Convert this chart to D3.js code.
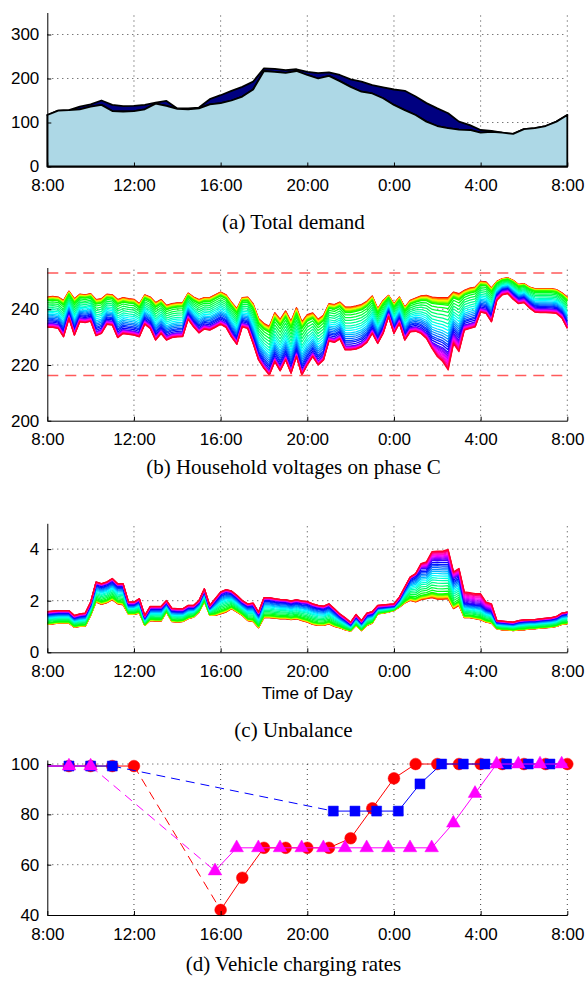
<!DOCTYPE html>
<html>
<head>
<meta charset="utf-8">
<script src="https://cdn.jsdelivr.net/npm/d3@7"></script>
<style>
  html, body { margin: 0; padding: 0; background: #fff; }
  svg { display: block; }
  .axis text { font-family: "Liberation Sans", Arial, Helvetica, sans-serif; font-size: 17px; fill: #000; }
  .axis path, .axis line { stroke: #000; stroke-width: 1; }
  .caption { font-family: "Liberation Serif", "Times New Roman", serif; font-size: 21px; fill: #000; }
  .xlabel { font-family: "Liberation Sans", Arial, Helvetica, sans-serif; font-size: 17px; fill: #000; }
</style>
</head>
<body>
<svg id="fig" width="587" height="981"></svg>
<script>
// ---------- shared time axis (hours after 8:00) ----------
const timeTicks = [0, 4, 8, 12, 16, 20, 24];
const timeTickLabels = ["8:00", "12:00", "16:00", "20:00", "0:00", "4:00", "8:00"];

// ---------- (a) total demand, half-hourly ----------
const demandHours = d3.range(0, 24.001, 0.5);
const baseDemand = [117,127,128,130,136,140,126,125,126,130,143,138,131,130,132,141,144,150,159,175,
  217,215,213,217,208,200,206,194,181,170,166,155,140,128,117,102,92,87,84,83,
  77,79,77,74,85,87,92,102,117];
const totalDemand = [117,127,128,136,141,150,140,137,138,140,145,149,132,132,134,153,162,172,181,193,
  223,222,219,221,215,212,214,208,198,193,185,180,175,172,159,144,132,121,102,94,
  83,81,77,74,85,87,92,102,117];
const demandTicks = [0, 100, 200, 300];

// ---------- (b) household voltages on phase C, quarter-hourly ----------
const voltHours = d3.range(0, 24.001, 0.25);
// highest voltage (house nearest the transformer)
const voltTop = [244.4,244.6,244.4,243.2,246.5,243.8,245.4,245.2,245.6,243.5,243.8,245.4,245.2,243.5,244.2,243.8,
  243.6,242.0,245.2,244.4,242.4,243.5,241.4,242.0,242.3,242.4,245.8,244.4,243.5,244.2,244.2,245.2,
  246.2,245.2,242.6,240.2,244.2,244.4,242.0,236.7,234.9,233.9,238.8,236.4,239.4,235.7,240.6,235.5,
  238.1,238.7,236.4,237.9,242.0,241.7,242.6,240.8,240.8,241.2,241.7,242.9,244.8,240.2,243.2,245.0,
  242.0,244.4,240.8,243.2,244.0,244.8,245.0,244.4,244.2,244.2,244.2,246.2,245.6,246.8,247.6,248.0,
  250.0,249.8,247.7,250.0,251.0,251.3,250.4,248.9,249.2,248.0,247.4,247.4,247.4,247.4,247.1,245.9,244.4];
// voltage of the blue trace where the far-end cluster begins
const voltKnee = [234.9,234.9,234.5,231.5,238.1,232.1,236.9,236.6,237.1,231.9,232.7,236.0,235.7,231.2,232.7,232.4,
  232.1,231.5,236.0,234.5,230.3,232.7,230.3,231.2,231.5,231.6,237.8,235.1,232.9,234.3,233.9,234.9,
  236.0,234.9,231.5,228.8,235.1,234.5,229.1,223.2,220.2,217.8,222.6,219.3,223.2,218.4,224.4,217.8,
  221.4,224.4,221.4,223.2,230.0,229.5,230.7,226.8,226.8,227.1,227.9,229.5,232.7,229.1,232.7,238.7,
  232.7,236.3,230.4,233.3,233.7,232.9,231.3,228.1,227.1,226.2,224.5,231.3,228.9,234.3,234.9,235.5,
  240.4,239.9,236.9,244.6,246.6,247.0,245.0,243.4,243.8,241.9,240.4,240.2,240.2,240.1,239.9,238.3,234.5];
// lowest voltage (house at the end of the feeder)
const voltBottom = [233.5,233.5,233.1,230.1,236.7,230.7,235.5,235.2,235.7,230.5,231.3,234.6,234.3,229.8,231.3,231.0,
  230.7,230.1,234.6,233.1,228.9,231.3,228.9,229.8,230.1,230.2,236.4,233.7,231.5,232.9,232.5,233.5,
  234.6,233.5,230.1,227.4,233.7,233.1,227.7,221.8,218.8,216.4,221.2,217.9,221.8,217.0,223.0,216.4,
  220.0,223.0,220.0,221.8,228.6,228.1,229.3,225.4,225.4,225.7,226.5,228.1,231.3,227.7,231.3,237.3,
  231.3,234.9,228.9,231.9,232.1,231.3,229.5,226.0,223.0,221.2,218.2,227.7,224.8,232.5,233.1,233.7,
  239.0,238.5,235.5,243.2,245.2,245.6,243.6,242.0,242.4,240.5,239.0,238.8,238.8,238.7,238.5,236.9,233.1];
const voltLimits = [253, 216.2];
const voltTicks = [200, 220, 240];

// ---------- (c) unbalance, quarter-hourly ----------
const unbalTop = [1.58,1.60,1.62,1.62,1.62,1.43,1.49,1.52,1.95,2.73,2.66,2.73,2.86,2.66,2.66,1.95,
  1.95,2.08,1.43,1.78,1.78,1.78,2.01,1.71,1.69,1.69,1.82,1.82,2.01,2.47,1.82,2.08,
  2.34,2.43,2.38,2.21,2.01,1.88,1.91,1.56,2.12,2.12,2.08,2.05,2.04,1.99,2.04,1.99,
  1.97,1.88,1.82,1.79,1.88,1.69,1.49,1.34,1.17,1.47,1.23,1.52,1.58,1.82,1.84,1.86,
  1.88,2.14,2.53,2.92,3.05,3.44,3.51,3.90,3.92,3.92,3.99,3.12,3.25,2.34,2.31,2.27,
  2.27,1.95,1.88,1.23,1.21,1.19,1.17,1.23,1.26,1.27,1.27,1.30,1.32,1.34,1.39,1.52,1.56];
const unbalKnee = [1.50,1.52,1.54,1.54,1.54,1.35,1.41,1.44,1.87,2.65,2.58,2.65,2.78,2.58,2.58,1.87,
  1.87,2.00,1.35,1.70,1.70,1.70,1.93,1.63,1.61,1.61,1.74,1.74,1.93,2.39,1.74,2.00,
  2.26,2.35,2.30,2.13,1.93,1.80,1.83,1.48,2.04,2.04,2.00,1.97,1.96,1.91,1.96,1.91,
  1.89,1.80,1.74,1.71,1.80,1.61,1.41,1.26,1.09,1.39,1.15,1.44,1.50,1.74,1.76,1.78,
  1.80,2.06,2.48,2.86,2.99,3.25,3.25,3.55,3.57,3.55,3.55,2.86,2.99,1.95,1.91,1.88,
  1.86,1.69,1.62,1.18,1.16,1.14,1.12,1.18,1.21,1.22,1.22,1.25,1.27,1.29,1.34,1.47,1.51];
const unbalBottom = [1.08,1.10,1.13,1.13,1.13,0.97,1.00,1.01,1.43,1.95,1.86,1.92,2.04,1.88,1.84,1.47,
  1.47,1.52,1.04,1.23,1.21,1.21,1.56,1.19,1.17,1.19,1.30,1.36,1.56,1.97,1.43,1.43,
  1.49,1.56,1.69,1.56,1.43,1.23,1.19,0.95,1.34,1.34,1.32,1.30,1.30,1.27,1.30,1.23,
  1.17,1.08,1.04,1.04,1.10,1.00,0.95,0.87,0.82,1.04,0.84,1.04,1.13,1.49,1.52,1.56,
  1.62,1.75,1.91,2.01,1.95,2.04,2.08,2.12,2.06,2.06,2.08,1.69,1.82,1.34,1.34,1.30,
  1.26,1.17,1.13,0.91,0.87,0.87,0.84,0.87,0.87,0.91,0.91,0.94,0.95,0.97,1.00,1.08,1.10];
const unbalTicks = [0, 2, 4];

// Where each of the 40 households sits along the feeder:
// 0 = nearest end, 1 = blue trace, 2 = far end.
const housePosition = [0, 0.01, 0.02, 0.03, 0.04, 0.05, 0.06, 0.07, 0.08, 0.09,
  0.10, 0.11, 0.12, 0.14, 0.20, 0.27, 0.34, 0.41, 0.48, 0.54,
  0.60, 0.66, 0.71, 0.76, 0.81, 0.86, 0.90, 0.95, 1.0, 1.1,
  1.2, 1.3, 1.4, 1.5, 1.6, 1.7, 1.8, 1.87, 1.94, 2.0];

// ---------- (d) vehicle charging rates ----------
const redHours = [1, 2, 3, 4, 8, 9, 10, 11, 12, 13, 14, 15, 16, 17, 18, 19, 20, 21, 22, 23, 24];
const redRates = [99.2, 99.2, 99.2, 99.2, 42, 54.8, 66.7, 66.7, 66.7, 66.7, 70.5, 82.4, 94.3,
  100, 100, 100, 100, 100, 100, 100, 100];
const redAway = [4, 8];
const blueHours = [1, 2, 3, 13.2, 14.2, 15.2, 16.2, 17.2, 18.2, 19.2, 20.2, 21.2, 22.2, 23.2];
const blueRates = [99.2, 99.2, 99.2, 81.3, 81.3, 81.3, 81.3, 92.1, 100, 100, 100, 100, 100, 100];
const blueAway = [3, 13.2];
const magentaHours = [1, 2, 7.74, 8.74, 9.74, 10.74, 11.74, 12.74, 13.74, 14.74, 15.74, 16.74, 17.74,
  18.74, 19.74, 20.74, 21.74, 22.74, 23.74];
const magentaRates = [99.2, 99.2, 57.5, 66.7, 66.7, 66.7, 66.7, 66.7, 66.7, 66.7, 66.7, 66.7, 66.7,
  76.5, 88.3, 100, 100, 100, 100];
const magentaAway = [2, 7.74];
const rateTicks = [40, 60, 80, 100];

// ---------- layout ----------
const svg = d3.select("#fig");
const x = d3.scaleLinear().domain([0, 24]).range([47.3, 567.3]);
const fmtTime = (d) => timeTickLabels[timeTicks.indexOf(d)];

function frame(y, yTicks) {
  const g = svg.append("g");
  const [yb, yt] = y.range();
  const grid = g.append("g").attr("stroke", "#000").attr("stroke-width", 1)
    .attr("stroke-dasharray", "1,4").attr("opacity", 0.75);
  grid.selectAll(".vg").data(timeTicks.slice(1)).join("line")
    .attr("x1", (d) => x(d)).attr("x2", (d) => x(d)).attr("y1", yb).attr("y2", yt);
  grid.selectAll(".hg").data(yTicks.slice(1)).join("line")
    .attr("x1", x(0)).attr("x2", x(24)).attr("y1", (d) => y(d)).attr("y2", (d) => y(d));
  const plot = g.append("g");
  const axes = g.append("g");
  axes.append("g").attr("class", "axis").attr("transform", `translate(0,${yb})`)
    .call(d3.axisBottom(x).tickValues(timeTicks).tickFormat(fmtTime)
      .tickSizeInner(-4).tickSizeOuter(0).tickPadding(12.5));
  axes.append("g").attr("class", "axis").attr("transform", `translate(${x(0)},0)`)
    .call(d3.axisLeft(y).tickValues(yTicks).tickFormat(d3.format("d"))
      .tickSizeInner(-4).tickSizeOuter(0).tickPadding(8));
  return plot;
}

function caption(text, yBase) {
  svg.append("text").attr("class", "caption").attr("x", 293.5).attr("y", yBase)
    .attr("text-anchor", "middle").text(text);
}

const hueOf = (i) => d3.hsl(360 * i / housePosition.length, 1, 0.5).toString();
const spread = (lo, knee, hi, p) => (p <= 1 ? lo + p * (knee - lo) : knee + (p - 1) * (hi - knee));

// ---------- (a) ----------
{
  const y = d3.scaleLinear().domain([0, 350]).range([166.5, 12.5]);
  const plot = frame(y, demandTicks);
  const rows = demandHours.map((h, i) => ({ h, base: baseDemand[i], total: totalDemand[i] }));
  plot.append("path").datum(rows)
    .attr("d", d3.area().x((d) => x(d.h)).y0((d) => y(d.base)).y1((d) => y(d.total)))
    .attr("fill", "#000080").attr("stroke", "#000").attr("stroke-width", 1.8).attr("stroke-linejoin", "round");
  plot.append("path").datum(rows)
    .attr("d", d3.area().x((d) => x(d.h)).y0(y(0)).y1((d) => y(d.base)))
    .attr("fill", "#add8e6").attr("stroke", "#000").attr("stroke-width", 1.8).attr("stroke-linejoin", "round");
  caption("(a) Total demand", 229);
}

// ---------- (b) ----------
{
  const y = d3.scaleLinear().domain([200, 255]).range([420.7, 267.5]);
  const plot = frame(y, voltTicks);
  const line = d3.line().x((d) => x(d[0])).y((d) => y(d[1]));
  housePosition.forEach((p, k) => {
    const pts = voltHours.map((h, i) => [h, spread(voltTop[i], voltKnee[i], voltBottom[i], p)]);
    plot.append("path").datum(pts).attr("d", line).attr("fill", "none")
      .attr("stroke", hueOf(k)).attr("stroke-width", 1.25).attr("stroke-linejoin", "round");
  });
  plot.selectAll(".limit").data(voltLimits).join("line")
    .attr("x1", x(0)).attr("x2", x(24)).attr("y1", (d) => y(d)).attr("y2", (d) => y(d))
    .attr("stroke", "#ff5a5a").attr("stroke-width", 1.5).attr("stroke-dasharray", "11,7");
  caption("(b) Household voltages on phase C", 474);
}

// ---------- (c) ----------
{
  const y = d3.scaleLinear().domain([0, 5]).range([652.3, 523.3]);
  const plot = frame(y, unbalTicks);
  const line = d3.line().x((d) => x(d[0])).y((d) => y(d[1]));
  housePosition.forEach((p, k) => {
    const pts = voltHours.map((h, i) => [h, spread(unbalBottom[i], unbalKnee[i], unbalTop[i], p)]);
    plot.append("path").datum(pts).attr("d", line).attr("fill", "none")
      .attr("stroke", hueOf(k)).attr("stroke-width", 1.25).attr("stroke-linejoin", "round");
  });
  svg.append("text").attr("class", "xlabel").attr("x", x(12)).attr("y", 699)
    .attr("text-anchor", "middle").text("Time of Day");
  caption("(c) Unbalance", 737);
}

// ---------- (d) ----------
{
  const y = d3.scaleLinear().domain([40, 101.6]).range([915, 760]);
  const plot = frame(y, rateTicks);
  const line = d3.line().x((d) => x(d[0])).y((d) => y(d[1]));
  const vehicles = [
    { hours: redHours, rates: redRates, away: redAway, color: "#ff0000", shape: d3.symbolCircle, size: 108 },
    { hours: blueHours, rates: blueRates, away: blueAway, color: "#0000ff", shape: d3.symbolSquare, size: 100 },
    { hours: magentaHours, rates: magentaRates, away: magentaAway, color: "#ff00ff", shape: d3.symbolTriangle, size: 80 },
  ];
  vehicles.forEach((v) => {
    const pts = v.hours.map((h, i) => [h, v.rates[i]]);
    const before = [[0, pts[0][1]], ...pts.filter((d) => d[0] <= v.away[0])];
    const after = pts.filter((d) => d[0] >= v.away[1]);
    if (after[after.length - 1][0] < 24) after.push([24, after[after.length - 1][1]]);
    const dep = pts.find((d) => d[0] === v.away[0]);
    const ret = pts.find((d) => d[0] === v.away[1]);
    const g = plot.append("g");
    [before, after].forEach((seg) => g.append("path").datum(seg).attr("d", line)
      .attr("fill", "none").attr("stroke", v.color).attr("stroke-width", 1));
    g.append("path").datum([dep, ret]).attr("d", line).attr("fill", "none")
      .attr("stroke", v.color).attr("stroke-width", 1).attr("stroke-dasharray", "9,6");
    g.selectAll(".mk").data(pts).join("path")
      .attr("transform", (d) => `translate(${x(d[0])},${y(d[1])})`)
      .attr("d", d3.symbol().type(v.shape).size(v.size))
      .attr("fill", v.color).attr("stroke", v.color).attr("stroke-width", 0.5);
  });
  caption("(d) Vehicle charging rates", 971);
}
</script>
</body>
</html>
